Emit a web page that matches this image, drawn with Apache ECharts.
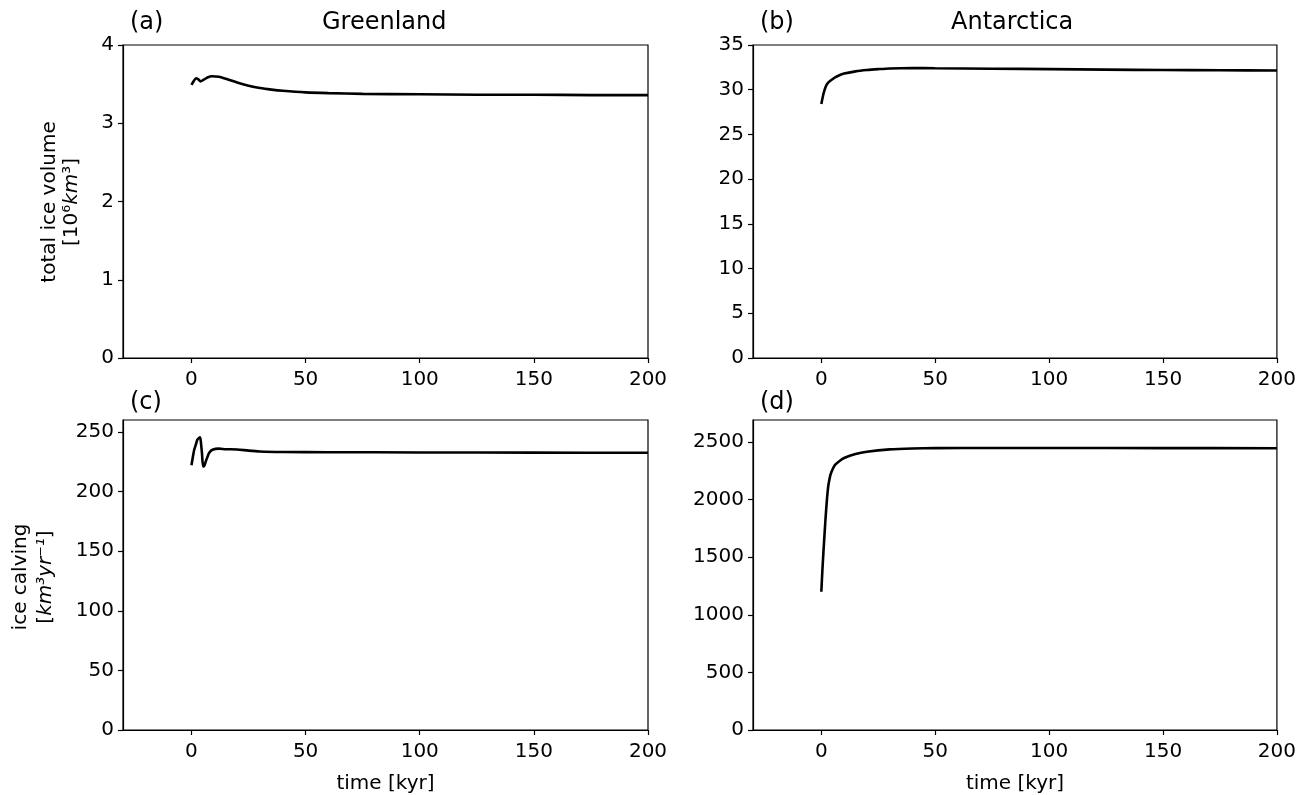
<!DOCTYPE html>
<html>
<head>
<meta charset="utf-8">
<script src="https://cdn.jsdelivr.net/npm/echarts@6/dist/echarts.min.js"></script>
<style>
html,body{margin:0;padding:0;background:#fff;}
#chart{width:1299px;height:795px;}
</style>
</head>
<body>
<div id="chart"></div>
<script>
// ---- data ----
const xTicks = [0, 50, 100, 150, 200];

// (a) Greenland total ice volume [10^6 km^3]
const tA = [0, 1, 2, 3, 4, 5, 7, 9, 12, 16, 20, 25, 30, 35, 40, 50, 60, 75, 100, 125, 150, 175, 200];
const vA = [3.49, 3.54, 3.575, 3.56, 3.535, 3.55, 3.585, 3.60, 3.595, 3.56, 3.52, 3.48, 3.45, 3.43, 3.415, 3.395, 3.385, 3.375, 3.37, 3.365, 3.365, 3.36, 3.36];
const yTicksA = [0, 1, 2, 3, 4];

// (b) Antarctica total ice volume
const tB = [0, 1, 2, 3, 5, 7, 10, 15, 20, 25, 30, 40, 50, 75, 100, 125, 150, 175, 200];
const vB = [28.4, 29.6, 30.4, 30.8, 31.2, 31.5, 31.8, 32.05, 32.2, 32.3, 32.38, 32.42, 32.4, 32.35, 32.3, 32.25, 32.2, 32.18, 32.15];
const yTicksB = [0, 5, 10, 15, 20, 25, 30, 35];

// (c) Greenland ice calving [km^3 yr^-1]
const tC = [0, 0.6, 1.2, 2, 2.6, 3.3, 3.8, 4.2, 4.6, 5.1, 5.7, 6.3, 7.0, 7.7, 9.2, 12, 15, 20, 25, 30, 40, 60, 100, 150, 200];
const vC = [222, 229, 235, 240, 243.5, 245, 245.5, 240, 232, 221, 222, 225.5, 229, 232.4, 235, 236, 235.5, 235.3, 234.3, 233.6, 233.2, 233, 232.8, 232.6, 232.5];
const yTicksC = [0, 50, 100, 150, 200, 250];

// (d) Antarctica ice calving
const tD = [0, 0.5, 1, 1.5, 2, 2.5, 3, 3.5, 4, 5, 6, 8, 10, 15, 20, 30, 40, 50, 75, 100, 150, 200];
const vD = [1200, 1400, 1570, 1730, 1880, 2010, 2110, 2170, 2215, 2265, 2300, 2335, 2360, 2395, 2415, 2435, 2443, 2446, 2447, 2447, 2446, 2445];
const yTicksD = [0, 500, 1000, 1500, 2000, 2500];

// ---- chart ----
const FONT = 'DejaVu Sans';
const grids = [
  {left: 123, top: 45, width: 525, height: 313},
  {left: 753, top: 45, width: 525, height: 313},
  {left: 123, top: 420, width: 525, height: 314},
  {left: 753, top: 420, width: 525, height: 314}
];
const yRanges = [[0, 4, yTicksA], [0, 35, yTicksB], [0, 260, yTicksC], [0, 2690, yTicksD]];
const seriesData = [[tA, vA], [tB, vB], [tC, vC], [tD, vD]];

const option = {
  backgroundColor: '#fff',
  animation: false,
  grid: grids.map(g => Object.assign({show: true, borderColor: '#000', borderWidth: 1.2, backgroundColor: 'transparent'}, g)),
  xAxis: grids.map((g, i) => ({
    type: 'value', gridIndex: i, min: -30, max: 200,
    axisLine: {show: true, onZero: false, lineStyle: {color: '#000', width: 1.2}},
    axisTick: {show: true, inside: false, length: 5, lineStyle: {color: '#000', width: 1.2}, customValues: xTicks},
    axisLabel: {show: true, color: '#000', fontFamily: FONT, fontSize: 20, margin: 12, customValues: xTicks,
                formatter: v => String(v)},
    splitLine: {show: false},
    name: i >= 2 ? 'time [kyr]' : '',
    nameLocation: 'middle', nameGap: 44,
    nameTextStyle: {color: '#000', fontFamily: FONT, fontSize: 20}
  })),
  yAxis: grids.map((g, i) => ({
    type: 'value', gridIndex: i, min: yRanges[i][0], max: yRanges[i][1],
    axisLine: {show: true, onZero: false, lineStyle: {color: '#000', width: 1.2}},
    axisTick: {show: true, inside: false, length: 5, lineStyle: {color: '#000', width: 1.2}, customValues: yRanges[i][2]},
    axisLabel: {show: true, color: '#000', fontFamily: FONT, fontSize: 20, margin: 9, customValues: yRanges[i][2],
                formatter: v => String(v)},
    splitLine: {show: false}
  })),
  series: seriesData.map((s, i) => ({
    type: 'line', xAxisIndex: i, yAxisIndex: i,
    data: s[0].map((t, j) => [t, s[1][j]]),
    showSymbol: false, symbol: 'none', smooth: 0.25,
    lineStyle: {color: '#000', width: 2.6},
    clip: true
  })),
  graphic: [
    {type: 'text', left: 322, top: 11, style: {text: 'Greenland', fill: '#000', font: '24px "DejaVu Sans"'}},
    {type: 'text', left: 951, top: 11, style: {text: 'Antarctica', fill: '#000', font: '24px "DejaVu Sans"'}},
    {type: 'text', left: 130, top: 11, style: {text: '(a)', fill: '#000', font: '24px "DejaVu Sans"'}},
    {type: 'text', left: 760, top: 11, style: {text: '(b)', fill: '#000', font: '24px "DejaVu Sans"'}},
    {type: 'text', left: 130, top: 391, style: {text: '(c)', fill: '#000', font: '24px "DejaVu Sans"'}},
    {type: 'text', left: 760, top: 391, style: {text: '(d)', fill: '#000', font: '24px "DejaVu Sans"'}},
    {type: 'text', x: 61, y: 202, rotation: Math.PI / 2,
     style: {text: 'total ice volume\n[10⁶{it|km}³]', fill: '#000', fontFamily: FONT, fontSize: 20, lineHeight: 22,
             align: 'center', verticalAlign: 'middle',
             rich: {it: {fontStyle: 'italic', fontFamily: FONT, fontSize: 20, fill: '#000'}}}},
    {type: 'text', x: 33, y: 577, rotation: Math.PI / 2,
     style: {text: 'ice calving\n[{it|km³yr⁻¹}]', fill: '#000', fontFamily: FONT, fontSize: 20, lineHeight: 25,
             align: 'center', verticalAlign: 'middle',
             rich: {it: {fontStyle: 'italic', fontFamily: FONT, fontSize: 20, fill: '#000'}}}}
  ]
};

const chart = echarts.init(document.getElementById('chart'), null, {renderer: 'canvas'});
chart.setOption(option);
</script>
</body>
</html>
